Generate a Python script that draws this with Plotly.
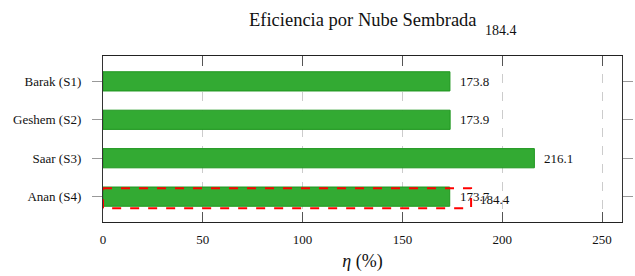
import plotly.graph_objects as go

categories = ["Barak (S1)", "Geshem (S2)", "Saar (S3)", "Anan (S4)"]
values = [173.8, 173.9, 216.1, 173.7]
value_labels = ["173.8", "173.9", "216.1", "173.7"]
highlight_category = "Anan (S4)"
highlight_value = 184.4
highlight_label = "184.4"
x_ticks = [0, 50, 100, 150, 200, 250]
title_text = "Eficiencia por Nube Sembrada"
x_title = "<i>η</i> (%)"

SERIF = "Liberation Serif"

fig = go.Figure()
fig.add_trace(go.Bar(
    y=categories, x=values, orientation="h", width=0.5,
    marker=dict(color="#33AA33", line=dict(color="#1E961E", width=1)),
    hoverinfo="skip", showlegend=False,
))

for c, v, t in zip(categories, values, value_labels):
    fig.add_annotation(x=v, y=c, text=t, xanchor="left", yanchor="middle",
                       xshift=8, showarrow=False,
                       font=dict(family=SERIF, size=13, color="#111"))

hi_idx = categories.index(highlight_category)
fig.add_shape(type="rect", xref="x", yref="y",
              x0=0, x1=highlight_value, y0=hi_idx - 0.22, y1=hi_idx + 0.30,
              line=dict(color="#FF0000", width=2, dash="dash"),
              fillcolor="rgba(0,0,0,0)")
fig.add_annotation(x=highlight_value, y=highlight_category, text=highlight_label,
                   xanchor="left", yanchor="middle", xshift=7, yshift=-3,
                   showarrow=False, font=dict(family=SERIF, size=13, color="#111"))

# title with small subscript-like value
fig.add_annotation(xref="paper", yref="paper", x=0.5, y=1, yshift=36,
                   text=title_text, showarrow=False, xanchor="center", yanchor="middle",
                   font=dict(family=SERIF, size=18.5, color="#111"))
fig.add_annotation(xref="paper", yref="paper", x=0.732, y=1, yshift=26,
                   text=highlight_label, showarrow=False, xanchor="left", yanchor="middle",
                   font=dict(family=SERIF, size=14, color="#111"))

fig.update_layout(
    width=635, height=276,
    margin=dict(l=103, r=13, t=56, b=54, autoexpand=False),
    plot_bgcolor="white", paper_bgcolor="white",
    font=dict(family=SERIF, size=13, color="#111"),
    bargap=0.5,
)
fig.update_xaxes(
    range=[0, 260], tickvals=x_ticks, ticktext=[str(t) for t in x_ticks],
    showgrid=True, gridcolor="#CCCCCC", griddash="dash", gridwidth=1,
    showline=True, linecolor="#222", linewidth=1.3, mirror="ticks",
    ticks="inside", ticklen=10, tickcolor="#555", tickwidth=1,
    zeroline=False, ticklabelstandoff=5, automargin=False,
    title=dict(text=x_title, font=dict(family=SERIF, size=18, color="#111"), standoff=8),
    tickfont=dict(family=SERIF, size=13, color="#111"),
)
fig.update_yaxes(
    categoryorder="array", categoryarray=categories, autorange=False,
    range=[3.66, -0.66], automargin=False,
    showgrid=False, showline=True, linecolor="#333", linewidth=1.3, mirror="ticks",
    ticks="outside", ticklen=10, tickcolor="#999", tickwidth=1,
    ticklabelstandoff=8,
    tickfont=dict(family=SERIF, size=13, color="#111"),
)

fig.write_html("out.html", config={"displayModeBar": False},
               post_script="document.body.style.margin='0';")
